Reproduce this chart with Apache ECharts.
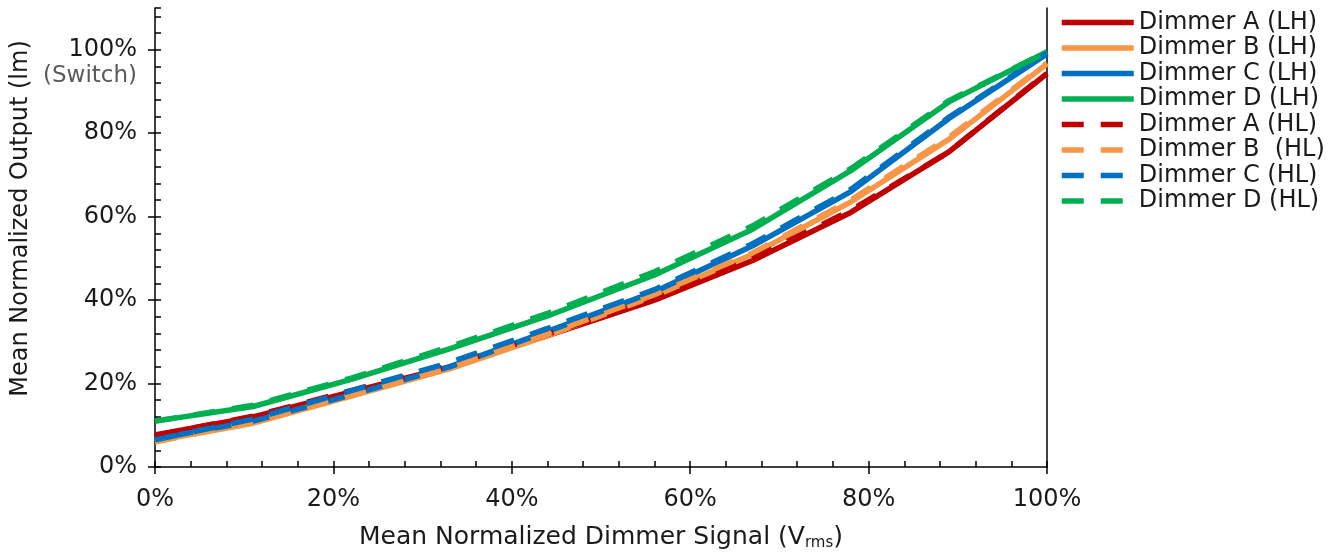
<!DOCTYPE html>
<html>
<head>
<meta charset="utf-8">
<script src="https://cdn.jsdelivr.net/npm/echarts@6/dist/echarts.min.js"></script>
<style>
html,body{margin:0;padding:0;background:#fff;}
#c{width:1340px;height:556px;}
</style>
</head>
<body>
<div id="c"></div>
<script>
// ---- data ----
const dimmerSignal = [0, 11, 22, 33, 44, 56, 67, 78, 89, 100];
const seriesNames = ['Dimmer A (LH)','Dimmer B (LH)','Dimmer C (LH)','Dimmer D (LH)',
                     'Dimmer A (HL)','Dimmer B  (HL)','Dimmer C (HL)','Dimmer D (HL)'];
const dimmerA_LH = [7.7, 12.0, 18.0, 24.0, 31.5, 40.0, 49.5, 61.0, 75.5, 94.3];
const dimmerB_LH = [6.2, 10.5, 17.0, 23.5, 31.5, 41.0, 51.0, 63.5, 78.5, 96.6];
const dimmerC_LH = [6.7, 11.0, 17.3, 24.0, 32.5, 42.0, 53.0, 66.0, 83.5, 99.0];
const dimmerD_LH = [11.0, 14.5, 21.0, 28.3, 36.2, 46.0, 57.0, 71.0, 87.5, 99.5];
const dimmerA_HL = [7.5, 12.2, 18.3, 24.3, 31.8, 40.3, 50.0, 61.5, 75.5, 94.5];
const dimmerB_HL = [6.0, 10.8, 17.2, 23.8, 31.8, 41.3, 51.3, 64.0, 79.0, 96.8];
const dimmerC_HL = [6.5, 11.5, 18.3, 25.0, 33.2, 42.5, 53.5, 66.5, 83.8, 99.2];
const dimmerD_HL = [11.0, 14.8, 21.3, 28.8, 36.8, 46.8, 57.8, 71.5, 87.8, 99.5];
const xTicks = [0, 20, 40, 60, 80, 100];
const yTicks = [0, 20, 40, 60, 80, 100];

const colors = ['#C00000', '#F79646', '#0070C0', '#00B050'];
const allValues = [dimmerA_LH, dimmerB_LH, dimmerC_LH, dimmerD_LH, dimmerA_HL, dimmerB_HL, dimmerC_HL, dimmerD_HL];

const FONT = '"DejaVu Sans", "Noto Sans", sans-serif';
const TXT = '#1a1a1a';
const DASH = [22, 17];

const chart = echarts.init(document.getElementById('c'), null, {renderer: 'canvas'});

const series = allValues.map((vals, i) => ({
  name: seriesNames[i],
  type: 'line',
  xAxisIndex: 0,
  yAxisIndex: 0,
  symbol: 'none',
  smooth: false,
  z: i < 4 ? 2 : 3,
  lineStyle: {
    color: colors[i % 4],
    width: 5.5,
    type: i < 4 ? 'solid' : DASH,
    cap: 'butt'
  },
  itemStyle: {color: colors[i % 4]},
  data: dimmerSignal.map((x, j) => [x, vals[j]])
}));

const pct = v => v + '%';

const option = {
  animation: false,
  backgroundColor: '#fff',
  grid: {left: 155, right: 293, top: 8, bottom: 87, containLabel: false},
  legend: {
    orient: 'vertical',
    left: 1059,
    top: 10,
    padding: 0,
    itemWidth: 72,
    itemHeight: 14,
    itemGap: 0.5,
    data: seriesNames.map((n, i) => ({
      name: n,
      itemStyle: {opacity: 0},
      lineStyle: {width: 5.5, color: colors[i % 4], type: i < 4 ? 'solid' : DASH, cap: 'butt'}
    })),
    textStyle: {fontFamily: FONT, fontSize: 24, lineHeight: 25, color: TXT, padding: [0,0,0,0]}
  },
  xAxis: [
    {
      type: 'value', min: 0, max: 100, interval: 20,
      position: 'bottom',
      axisLine: {show: true, lineStyle: {color: '#000', width: 1.5}},
      axisTick: {show: true, inside: false, length: 7, lineStyle: {color: '#000', width: 1.5}},
      splitLine: {show: false},
      axisLabel: {formatter: pct, fontFamily: FONT, fontSize: 24, color: TXT, margin: 21},
      name: 'Mean Normalized Dimmer Signal (V{sub|rms})',
      nameLocation: 'middle',
      nameGap: 57,
      nameTextStyle: {fontFamily: FONT, fontSize: 25, color: TXT,
        rich: {sub: {fontFamily: FONT, fontSize: 15, color: TXT, verticalAlign: 'bottom', padding: [12,0,0,0]}}}
    },
    {
      type: 'value', min: 0, max: 100, interval: 4,
      position: 'bottom',
      axisLine: {show: false},
      axisTick: {show: true, inside: true, length: 6, lineStyle: {color: '#000', width: 1.5}},
      splitLine: {show: false},
      axisLabel: {show: false}
    }
  ],
  yAxis: [
    {
      type: 'value', min: 0, max: 110, interval: 20,
      position: 'left',
      axisLine: {show: true, lineStyle: {color: '#000', width: 1.5}},
      axisTick: {show: true, inside: false, length: 7, lineStyle: {color: '#000', width: 1.5}},
      splitLine: {show: false},
      axisLabel: {formatter: pct, fontFamily: FONT, fontSize: 24, color: TXT, margin: 18, showMaxLabel: false},
      name: 'Mean Normalized Output (lm)',
      nameLocation: 'middle',
      nameGap: 122,
      nameRotate: 90,
      nameTextStyle: {fontFamily: FONT, fontSize: 24, color: TXT, padding: [0, 0, 0, 38]}
    },
    {
      type: 'value', min: 0, max: 110, interval: 4,
      position: 'left',
      axisLine: {show: false},
      axisTick: {show: true, inside: true, length: 6, lineStyle: {color: '#000', width: 1.5}},
      splitLine: {show: false},
      axisLabel: {show: false}
    },
    {
      type: 'value', min: 0, max: 110,
      position: 'right',
      axisLine: {show: true, lineStyle: {color: '#000', width: 1.5}},
      axisTick: {show: false},
      splitLine: {show: false},
      axisLabel: {show: false}
    }
  ],
  series: series
};

chart.setOption(option);

// "(Switch)" annotation under the 100% tick label
const p100 = chart.convertToPixel({yAxisIndex: 0}, 100);
const x0 = chart.convertToPixel({xAxisIndex: 0}, 0);
chart.setOption({
  graphic: [{
    type: 'text',
    x: x0 - 18,
    y: p100 + 26,
    style: {
      text: '(Switch)',
      fontFamily: FONT,
      fontSize: 23,
      fill: '#595959',
      align: 'right',
      verticalAlign: 'middle'
    }
  }]
});
</script>
</body>
</html>
